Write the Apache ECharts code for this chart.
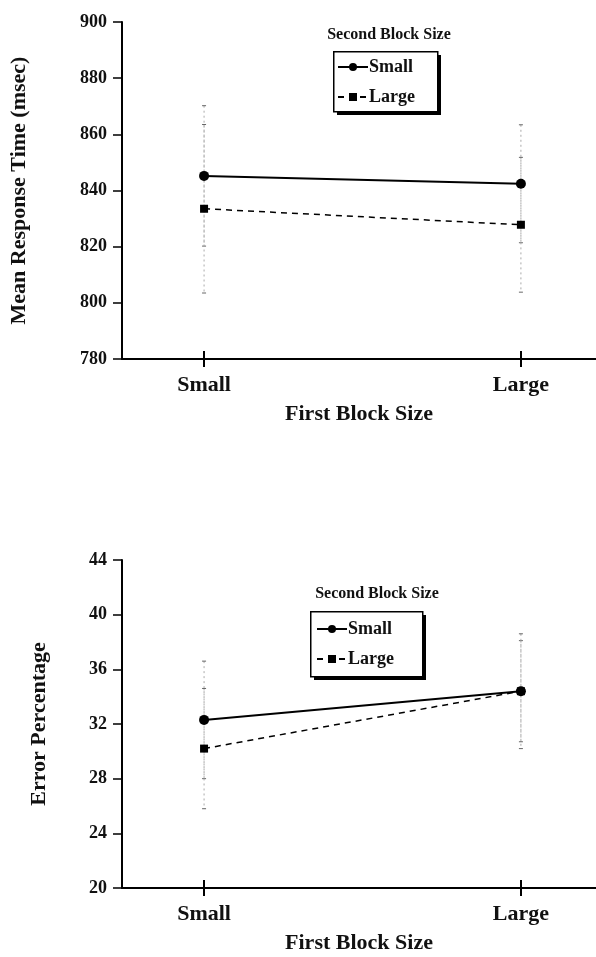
<!DOCTYPE html>
<html>
<head>
<meta charset="utf-8">
<script src="https://cdn.jsdelivr.net/npm/echarts@6/dist/echarts.min.js"></script>
<style>
html,body{margin:0;padding:0;background:#fff;}
#c{width:596px;height:957px;}
</style>
</head>
<body>
<div id="c"></div>
<script>
// ---- data ----
const categories = ['Small', 'Large'];
const seriesNames = ['Small', 'Large'];
const legendTitle = 'Second Block Size';
// Top chart: mean response time (msec)
const rtSmall = [845.2, 842.4];
const rtLarge = [833.5, 827.8];
const rtSmallErr = [25, 21];
const rtLargeErr = [30, 24];
const rtMin = 780, rtMax = 900, rtStep = 20;
// Bottom chart: error percentage
const epSmall = [32.3, 34.4];
const epLarge = [30.2, 34.4];
const epSmallErr = [4.3, 3.7];
const epLargeErr = [4.4, 4.2];
const epMin = 20, epMax = 44, epStep = 4;
const catIdx = [0, 1];

const FONT = '"Liberation Serif", "DejaVu Serif", serif';

function pts(vals) { return vals.map((v, i) => [catIdx[i], v]); }
function errPts(vals, errs) { return vals.map((v, i) => [catIdx[i], v, errs[i]]); }

function errorSeries(xi, yi, data) {
  return {
    type: 'custom', xAxisIndex: xi, yAxisIndex: yi, silent: true, z: 1,
    data: data,
    renderItem: function (params, api) {
      const x = api.value(0), y = api.value(1), e = api.value(2);
      const hi = api.coord([x, y + e]);
      const lo = api.coord([x, y - e]);
      const st = { stroke: '#aaa', lineWidth: 1, lineDash: [2, 3] };
      const cap = { stroke: '#666', lineWidth: 1 };
      return {
        type: 'group',
        children: [
          { type: 'line', shape: { x1: hi[0], y1: hi[1], x2: lo[0], y2: lo[1] }, style: st },
          { type: 'line', shape: { x1: hi[0] - 2, y1: hi[1], x2: hi[0] + 2, y2: hi[1] }, style: cap },
          { type: 'line', shape: { x1: lo[0] - 2, y1: lo[1], x2: lo[0] + 2, y2: lo[1] }, style: cap }
        ]
      };
    }
  };
}

const xMin = -0.259, xMax = 1.237;

function xAxes(gridIndex) {
  const main = {
    type: 'value', gridIndex: gridIndex, position: 'bottom', min: xMin, max: xMax,
    splitLine: { show: false },
    axisLine: { show: true, onZero: false, lineStyle: { color: '#000', width: 2 } },
    axisTick: { show: true, length: 8, customValues: catIdx, lineStyle: { color: '#000', width: 2 } },
    axisLabel: {
      show: true, customValues: catIdx, margin: 15,
      formatter: v => categories[Math.round(v)],
      fontFamily: FONT, fontSize: 22, fontWeight: 'bold', color: '#111'
    },
    name: 'First Block Size', nameLocation: 'middle', nameGap: 44,
    nameTextStyle: { fontFamily: FONT, fontSize: 22, fontWeight: 'bold', color: '#111' }
  };
  const inner = {
    type: 'value', gridIndex: gridIndex, position: 'bottom', offset: 0, min: xMin, max: xMax,
    splitLine: { show: false },
    axisLine: { show: false, onZero: false },
    axisTick: { show: true, inside: true, length: 8, customValues: catIdx, lineStyle: { color: '#000', width: 2 } },
    axisLabel: { show: false }
  };
  return [main, inner];
}

function yAxis(gridIndex, mn, mx, step, name, nameGap) {
  return {
    type: 'value', gridIndex: gridIndex, min: mn, max: mx, interval: step,
    splitLine: { show: false },
    axisLine: { show: true, onZero: false, lineStyle: { color: '#000', width: 2 } },
    axisTick: { show: true, length: 9, lineStyle: { color: '#000', width: 1.5 } },
    axisLabel: { margin: 15, fontFamily: FONT, fontSize: 18, fontWeight: 'bold', color: '#111' },
    name: name, nameLocation: 'middle', nameGap: nameGap,
    nameTextStyle: { fontFamily: FONT, fontSize: 22, fontWeight: 'bold', color: '#111' }
  };
}

function lineSeries(name, xi, yi, vals, dashed) {
  return {
    name: name, type: 'line', xAxisIndex: xi, yAxisIndex: yi, z: 3,
    data: pts(vals),
    symbol: dashed ? 'rect' : 'circle',
    symbolSize: dashed ? 8 : 10,
    itemStyle: { color: '#000' },
    lineStyle: { color: '#000', width: dashed ? 1.5 : 2, type: dashed ? [6, 5] : 'solid' }
  };
}

const legendCommon = {
  orient: 'vertical', itemWidth: 30, itemHeight: 10, itemGap: 12,
  padding: 0,
  textStyle: { fontFamily: FONT, fontSize: 18, fontWeight: 'bold', color: '#111', padding: [0, 0, 0, -4] },
  data: seriesNames,
  selectedMode: false
};

function legendBox(x, y, w, h) {
  return [
    { type: 'rect', left: x + 4, top: y + 4, shape: { width: w, height: h }, style: { fill: '#000' }, z: 10 },
    { type: 'rect', left: x, top: y, shape: { width: w, height: h }, style: { fill: '#fff', stroke: '#000', lineWidth: 1.5 }, z: 11 }
  ];
}

const chart = echarts.init(document.getElementById('c'), null, { renderer: 'canvas' });
chart.setOption({
  animation: false,
  backgroundColor: '#fff',
  title: [
    { text: legendTitle, left: 384, top: 22, textAlign: 'center',
      textStyle: { fontFamily: FONT, fontSize: 16, fontWeight: 'bold', color: '#111' } },
    { text: legendTitle, left: 372, top: 581, textAlign: 'center',
      textStyle: { fontFamily: FONT, fontSize: 16, fontWeight: 'bold', color: '#111' } }
  ],
  graphic: [].concat(legendBox(333, 51, 104, 60), legendBox(310, 611, 112, 65)),
  legend: [
    Object.assign({}, legendCommon, { left: 337, top: 58, z: 20 }),
    Object.assign({}, legendCommon, { left: 316, top: 620, z: 20 })
  ],
  grid: [
    { left: 122, top: 22, width: 474, height: 337 },
    { left: 122, top: 560, width: 474, height: 328 }
  ],
  xAxis: [].concat(xAxes(0), xAxes(1)),
  yAxis: [
    yAxis(0, rtMin, rtMax, rtStep, 'Mean Response Time (msec)', 92),
    yAxis(1, epMin, epMax, epStep, 'Error Percentage', 72)
  ],
  series: [
    errorSeries(0, 0, errPts(rtSmall, rtSmallErr)),
    errorSeries(0, 0, errPts(rtLarge, rtLargeErr)),
    lineSeries(seriesNames[0], 0, 0, rtSmall, false),
    lineSeries(seriesNames[1], 0, 0, rtLarge, true),
    errorSeries(2, 1, errPts(epSmall, epSmallErr)),
    errorSeries(2, 1, errPts(epLarge, epLargeErr)),
    lineSeries(seriesNames[0], 2, 1, epSmall, false),
    lineSeries(seriesNames[1], 2, 1, epLarge, true)
  ]
});
</script>
</body>
</html>
